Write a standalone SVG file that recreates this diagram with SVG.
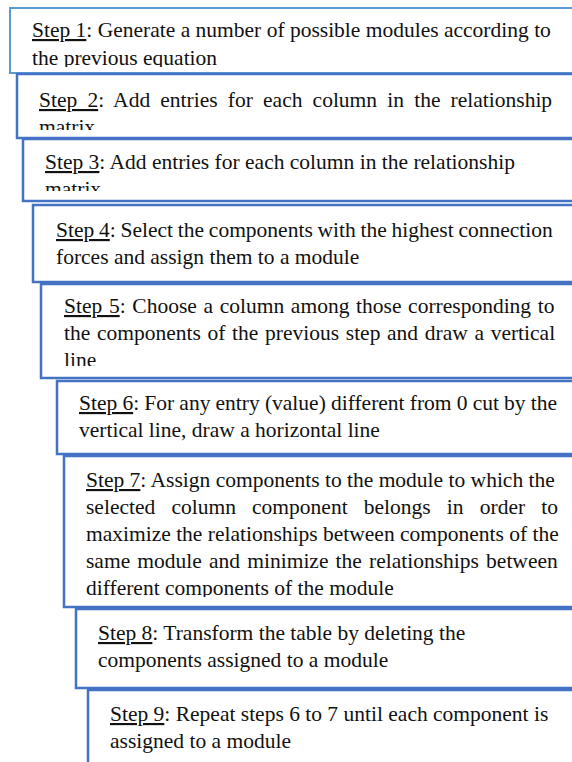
<svg xmlns="http://www.w3.org/2000/svg" width="572" height="762" viewBox="0 0 572 762">
<style>
.box{fill:#fff;stroke:#4472C4;stroke-width:2.5}
.b1{stroke:#5B9BD5;stroke-width:2}
text{font-family:'Liberation Serif';font-size:21.5px;fill:#111}
.u{text-decoration:underline}
</style>
<defs>
<clipPath id="c1"><rect x="10" y="9" width="570" height="58"/></clipPath>
<clipPath id="c2"><rect x="17" y="75" width="570" height="55"/></clipPath>
<clipPath id="c3"><rect x="23" y="140" width="570" height="51"/></clipPath>
<clipPath id="c5"><rect x="40" y="285" width="570" height="81"/></clipPath>
<clipPath id="c7"><rect x="62" y="457" width="570" height="140"/></clipPath>
</defs>
<g id="step1">
<rect class="box b1" x="10" y="8" width="600" height="65"/>
<g clip-path="url(#c1)">
<text x="32" y="37"><tspan class="u">Step 1</tspan>: Generate a number of possible modules according to</text>
<text x="32" y="65">the previous equation</text>
</g>
</g>
<g id="step2">
<rect class="box" x="17" y="74" width="600" height="64"/>
<g clip-path="url(#c2)">
<text x="39" y="107" word-spacing="4.8"><tspan class="u">Step 2</tspan>: Add entries for each column in the relationship</text>
<text x="39" y="134">matrix</text>
</g>
</g>
<g id="step3">
<rect class="box" x="23" y="139" width="600" height="62"/>
<g clip-path="url(#c3)">
<text x="45" y="169"><tspan class="u">Step 3</tspan>: Add entries for each column in the relationship</text>
<text x="45" y="196">matrix</text>
</g>
</g>
<g id="step4">
<rect class="box" x="33" y="205" width="600" height="77"/>
<text x="56" y="237" word-spacing="-0.6"><tspan class="u">Step 4</tspan>: Select the components with the highest connection</text>
<text x="56" y="264">forces and assign them to a module</text>
</g>
<g id="step5">
<rect class="box" x="41" y="284" width="600" height="94"/>
<g clip-path="url(#c5)">
<text x="64" y="313" word-spacing="1.3"><tspan class="u">Step 5</tspan>: Choose a column among those corresponding to</text>
<text x="64" y="340" word-spacing="1.3">the components of the previous step and draw a vertical</text>
<text x="64" y="367">line</text>
</g>
</g>
<g id="step6">
<rect class="box" x="57" y="381" width="600" height="73"/>
<text x="79" y="410" word-spacing="-0.2"><tspan class="u">Step 6</tspan>: For any entry (value) different from 0 cut by the</text>
<text x="79" y="437">vertical line, draw a horizontal line</text>
</g>
<g id="step7">
<rect class="box" x="64" y="456" width="600" height="151"/>
<g clip-path="url(#c7)">
<text x="86" y="487"><tspan class="u">Step 7</tspan>: Assign components to the module to which the</text>
<text x="86" y="514" word-spacing="10.8">selected column component belongs in order to</text>
<text x="86" y="541">maximize the relationships between components of the</text>
<text x="86" y="568" word-spacing="1.8">same module and minimize the relationships between</text>
<text x="86" y="595">different components of the module</text>
</g>
</g>
<g id="step8">
<rect class="box" x="76" y="609" width="600" height="79"/>
<text x="98" y="640"><tspan class="u">Step 8</tspan>: Transform the table by deleting the</text>
<text x="98" y="667">components assigned to a module</text>
</g>
<g id="step9">
<rect class="box" x="88" y="690" width="600" height="120"/>
<text x="110" y="721"><tspan class="u">Step 9</tspan>: Repeat steps 6 to 7 until each component is</text>
<text x="110" y="748">assigned to a module</text>
</g>
</svg>
